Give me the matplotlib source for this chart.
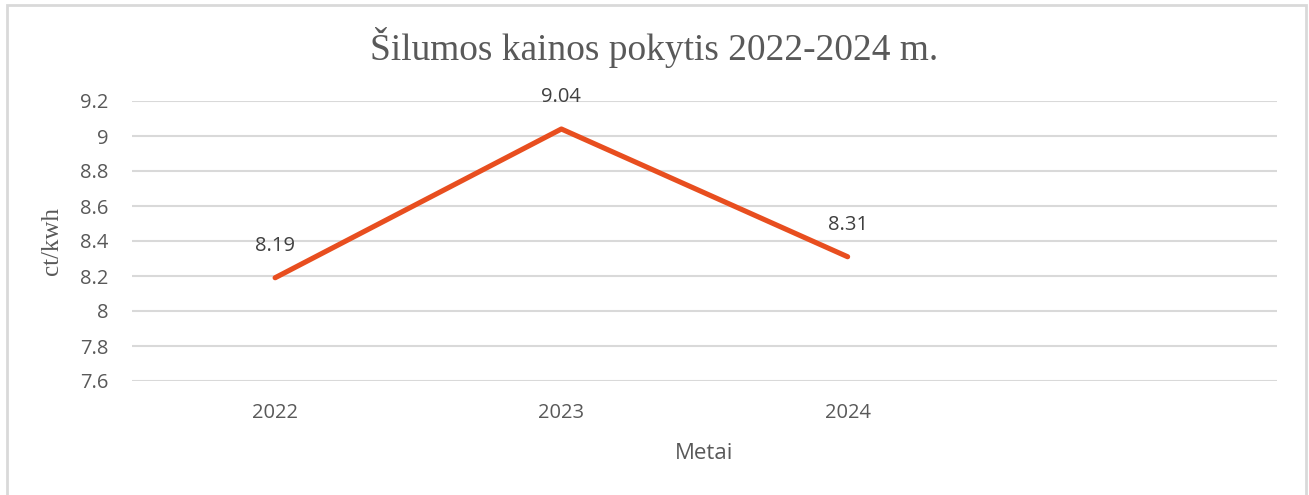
import matplotlib.pyplot as plt
from matplotlib.patches import Rectangle

years = ['2022', '2023', '2024']
prices = [8.19, 9.04, 8.31]
yticks = [7.6, 7.8, 8.0, 8.2, 8.4, 8.6, 8.8, 9.0, 9.2]
ytick_labels = ['7.6', '7.8', '8', '8.2', '8.4', '8.6', '8.8', '9', '9.2']

W, H = 1309, 495
grey = '#595959'
grid_col = '#d9d9d9'
line_col = '#e84e1f'

fig = plt.figure(figsize=(W / 100, H / 100), dpi=100)
ax = fig.add_axes([132 / W, 1 - 381 / H, (1277 - 132) / W, (381 - 101) / H])

x = list(range(len(years)))
ax.plot(x, prices, color=line_col, linewidth=3.7, solid_capstyle='round', zorder=3)
for xi, v in zip(x, prices):
    ax.annotate(f'{v:.2f}', (xi, v), xytext=(0, 23), textcoords='offset points',
                ha='center', va='center', fontsize=14.5, color='#404040',
                family='Open Sans')

# 4 category slots, the last one empty
ax.set_xlim(-0.5, 3.5)
ax.set_ylim(7.6, 9.2)
ax.set_xticks(x)
ax.set_xticklabels(years)
ax.set_yticks(yticks)
ax.set_yticklabels(ytick_labels)
ax.tick_params(length=0, labelsize=14.5, labelcolor=grey, pad=17)
ax.tick_params(axis='x', pad=16)
for lab in ax.get_xticklabels() + ax.get_yticklabels():
    lab.set_family('Open Sans')
ax.grid(axis='y', color=grid_col, linewidth=1.5)
ax.set_axisbelow(True)
for s in ax.spines.values():
    s.set_visible(False)

ax.set_xlabel('Metai', fontsize=16, color=grey, family='Open Sans', labelpad=14)
ax.set_ylabel('ct/kwh', fontsize=18, color=grey, family='Liberation Serif', labelpad=12)

fig.text(0.5, 1 - 48 / H, 'Šilumos kainos pokytis 2022-2024 m.', ha='center', va='center',
         fontsize=26.9, color=grey, family='Liberation Serif')

# chart frame (bottom edge is cut off)
fig.patches.append(Rectangle((7 / W, -0.05), (1306 - 7) / W, 1.05 - 5 / H,
                             transform=fig.transFigure, fill=False,
                             edgecolor=grid_col, linewidth=2))
# bit of page text above the chart, cut off like in the page
fig.text(48 / W, 1 + 6 / H, 'g', ha='left', va='baseline', fontsize=18,
         color='black', family='Liberation Serif')

fig.savefig('out.png', dpi=100)
